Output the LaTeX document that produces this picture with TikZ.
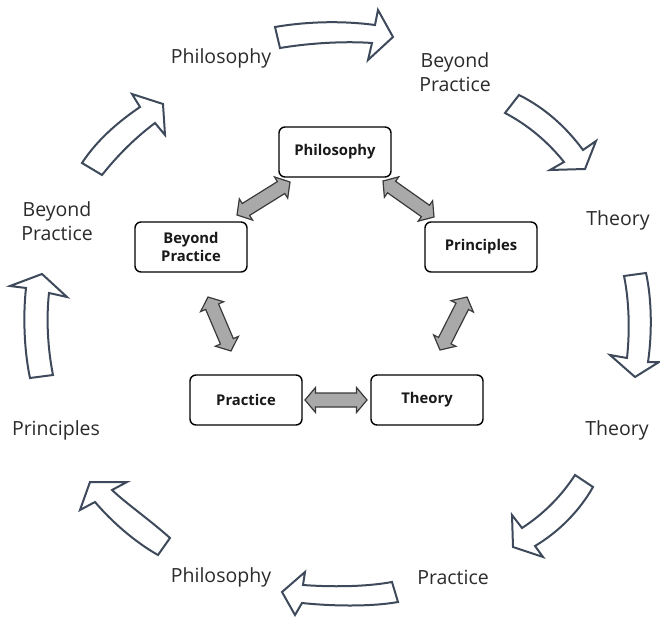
\documentclass[tikz,border=0pt]{standalone}
\usepackage{fontspec}
\setmainfont{Open Sans}
\usetikzlibrary{calc}
\definecolor{arrline}{HTML}{3E4A5B}
\definecolor{txt}{HTML}{2B2B2B}
\definecolor{dblfill}{HTML}{A9A9A9}
\definecolor{dblline}{HTML}{3A3A3A}
\tikzset{
  outer/.style={text=txt,font=\fontsize{19.5}{24}\selectfont,align=center,inner sep=0pt},
  box/.style={draw=black,line width=1.4pt,rounded corners=6pt,fill=white,
    minimum width=112pt,minimum height=50pt,align=center,inner sep=0pt,
    font=\fontsize{14.8}{18}\selectfont\bfseries,text=black!90},
  hollow/.style={draw=arrline,line width=2pt,fill=white,line join=miter},
  dbl/.style={draw=dblline,line width=1.2pt,fill=dblfill,line join=miter}
}
\newcommand{\dblarr}[2]{%
  \path let \p1=(#1), \p2=(#2),
    \n1={atan2(\y2-\y1,\x2-\x1)}, \n2={veclen(\x2-\x1,\y2-\y1)} in
    \pgfextra{\xdef\myang{\n1}\xdef\mylen{\n2}};
  \begin{scope}[shift={(#1)},rotate=\myang]
    \path[dbl] (0pt,0pt) -- (10.5pt,12.5pt) -- (10.5pt,7pt) -- (\mylen-10.5pt,7pt)
      -- (\mylen-10.5pt,12.5pt) -- (\mylen,0pt) -- (\mylen-10.5pt,-12.5pt)
      -- (\mylen-10.5pt,-7pt) -- (10.5pt,-7pt) -- (10.5pt,-12.5pt) -- cycle;
  \end{scope}}
\begin{document}
\begin{tikzpicture}[x=1pt,y=-1pt]
\useasboundingbox[fill=white] (0,0) rectangle (660,617);

% outer labels
\node[outer] (o1) at (221,58) {Philosophy};
\node[outer] (o2) at (455,72) {Beyond\\Practice};
\node[outer] (o3) at (618,220) {Theory};
\node[outer] (o4) at (617,430) {Theory};
\node[outer] (o5) at (453,577) {Practice};
\node[outer] (o6) at (221,577) {Philosophy};
\node[outer] (o7) at (56,430) {Principles};
\node[outer] (o8) at (57,221) {Beyond\\Practice};

% outer hollow arrows
\path[hollow] (280,48) -- (275,27) .. controls (310,21) and (345,21) .. (375,25)
  -- (378,10) -- (393,37) -- (368,60) -- (372,43)
  .. controls (345,41) and (310,43) .. (280,48) -- cycle;
\path[hollow] (505,113) -- (519,95) .. controls (545,108) and (566,127) .. (583,150)
  -- (596,141) -- (585,169) -- (550,170) -- (564,162)
  .. controls (548,142) and (528,125) .. (505,113) -- cycle;
\path[hollow] (624,276) -- (646,273) .. controls (652,300) and (652,335) .. (648,362)
  -- (659,362) -- (635,377) -- (610,355) -- (627,358)
  .. controls (630,330) and (629,300) .. (624,276) -- cycle;
\path[hollow] (575,475) -- (593,487) .. controls (580,510) and (560,531) .. (535,546)
  -- (543,557) -- (513,547) -- (512,515) -- (522,528)
  .. controls (545,513) and (562,495) .. (575,475) -- cycle;
\path[hollow] (392,582) -- (398,602) .. controls (370,607) and (330,606) .. (302,603)
  -- (295,615) -- (282,592) -- (305,572) -- (303,585)
  .. controls (330,587) and (365,587) .. (392,582) -- cycle;
\path[hollow] (158,555) -- (170,538) .. controls (150,520) and (128,505) .. (112,490)
  -- (127,482) -- (90,482) -- (80,510) -- (95,502)
  .. controls (112,522) and (135,542) .. (158,555) -- cycle;
\path[hollow] (53,375) -- (30,378) .. controls (24,350) and (23,315) .. (26,288)
  -- (10,286) -- (42,274) -- (67,297) -- (49,293)
  .. controls (46,320) and (48,350) .. (53,375) -- cycle;
\path[hollow] (82,163) -- (102,175) .. controls (118,155) and (135,138) .. (155,123)
  -- (165,135) -- (163,104) -- (132,94) -- (140,107)
  .. controls (118,122) and (97,140) .. (82,163) -- cycle;

% inner boxes
\node[box] (phil) at (335,152) {Philosophy};
\node[box] (beyond) at (191,247) {Beyond\\Practice};
\node[box] (princ) at (481,247) {Principles};
\node[box] (prac) at (246,400) {Practice};
\node[box] (theo) at (427,400) {Theory};

% connector end points
\coordinate (pb1) at (290,182);
\coordinate (pb2) at (237,215);
\coordinate (pp1) at (383,181);
\coordinate (pp2) at (434,217);
\coordinate (bp1) at (208,297);
\coordinate (bp2) at (231,351);
\coordinate (pt1) at (467,297);
\coordinate (pt2) at (440,350);
\coordinate (pr1) at (305,400);
\coordinate (pr2) at (367,400);

\dblarr{pb1}{pb2}
\dblarr{pp1}{pp2}
\dblarr{bp1}{bp2}
\dblarr{pt1}{pt2}
\dblarr{pr1}{pr2}
\end{tikzpicture}
\end{document}
